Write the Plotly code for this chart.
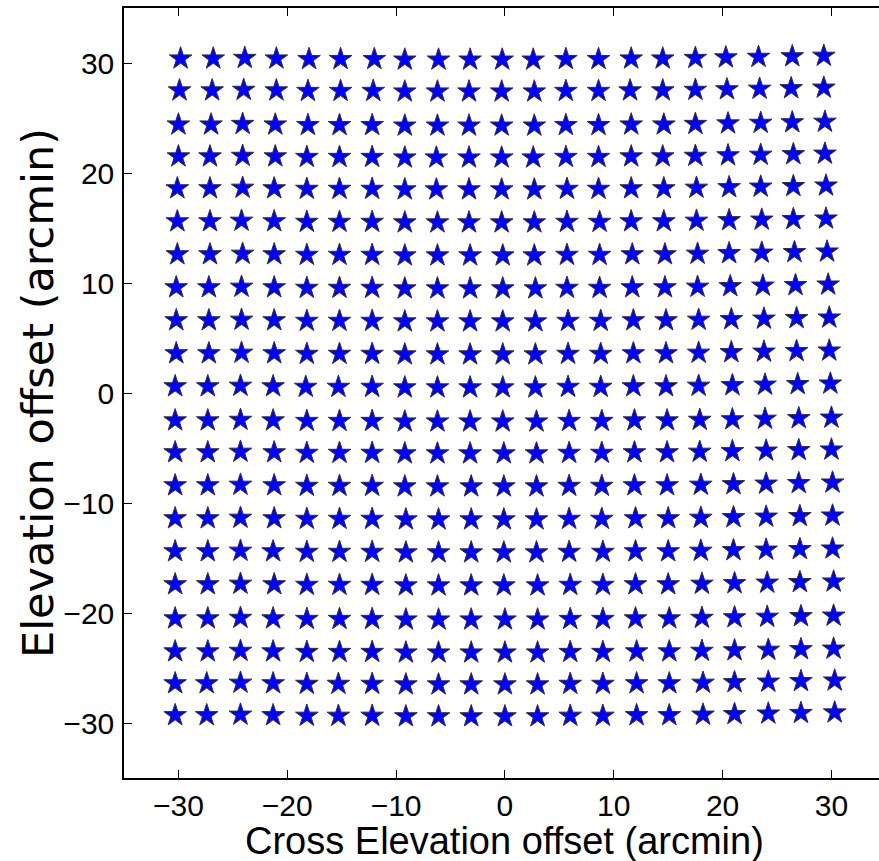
import plotly.graph_objects as go

# Cross-elevation offsets (arcmin), one list per grid row (top row first)
xel_rows = [
    [-29.8, -26.8, -23.9, -21.0, -18.0, -15.1, -12.0, -9.2, -6.1, -3.2, -0.25, 2.6, 5.6, 8.6, 11.6, 14.5, 17.5, 20.3, 23.3, 26.4, 29.3],
    [-29.9, -26.9, -24.0, -21.0, -18.1, -15.1, -12.1, -9.2, -6.2, -3.3, -0.3, 2.7, 5.6, 8.6, 11.5, 14.5, 17.5, 20.4, 23.4, 26.3, 29.3],
    [-30.0, -27.0, -24.1, -21.1, -18.1, -15.2, -12.2, -9.2, -6.2, -3.3, -0.3, 2.7, 5.6, 8.6, 11.6, 14.6, 17.5, 20.5, 23.5, 26.4, 29.4],
    [-30.0, -27.1, -24.1, -21.1, -18.2, -15.2, -12.2, -9.2, -6.3, -3.3, -0.3, 2.6, 5.6, 8.6, 11.6, 14.5, 17.5, 20.5, 23.5, 26.5, 29.4],
    [-30.1, -27.1, -24.1, -21.2, -18.2, -15.2, -12.2, -9.2, -6.3, -3.3, -0.3, 2.7, 5.7, 8.6, 11.6, 14.6, 17.6, 20.6, 23.5, 26.5, 29.5],
    [-30.1, -27.1, -24.2, -21.2, -18.2, -15.2, -12.2, -9.2, -6.2, -3.3, -0.3, 2.7, 5.7, 8.7, 11.6, 14.6, 17.6, 20.6, 23.6, 26.5, 29.5],
    [-30.1, -27.1, -24.1, -21.2, -18.2, -15.2, -12.2, -9.2, -6.2, -3.2, -0.2, 2.7, 5.7, 8.7, 11.7, 14.7, 17.7, 20.6, 23.6, 26.6, 29.6],
    [-30.2, -27.2, -24.2, -21.2, -18.2, -15.2, -12.2, -9.2, -6.2, -3.2, -0.2, 2.8, 5.7, 8.7, 11.7, 14.7, 17.7, 20.7, 23.7, 26.7, 29.7],
    [-30.2, -27.2, -24.2, -21.2, -18.2, -15.2, -12.2, -9.2, -6.2, -3.2, -0.2, 2.8, 5.8, 8.8, 11.8, 14.8, 17.8, 20.8, 23.8, 26.8, 29.8],
    [-30.2, -27.2, -24.2, -21.2, -18.2, -15.2, -12.2, -9.2, -6.2, -3.2, -0.2, 2.8, 5.8, 8.8, 11.8, 14.8, 17.8, 20.8, 23.8, 26.8, 29.8],
    [-30.3, -27.3, -24.3, -21.3, -18.3, -15.3, -12.2, -9.2, -6.2, -3.2, -0.2, 2.8, 5.8, 8.8, 11.8, 14.8, 17.8, 20.9, 23.9, 26.9, 29.9],
    [-30.3, -27.3, -24.3, -21.3, -18.2, -15.2, -12.2, -9.2, -6.2, -3.2, -0.2, 2.9, 5.9, 8.9, 11.9, 14.9, 17.9, 20.9, 23.9, 27.0, 30.0],
    [-30.3, -27.3, -24.3, -21.2, -18.2, -15.2, -12.2, -9.2, -6.2, -3.2, -0.1, 2.9, 5.9, 8.9, 11.9, 14.9, 17.9, 20.9, 24.0, 27.0, 30.0],
    [-30.3, -27.3, -24.3, -21.2, -18.2, -15.2, -12.2, -9.2, -6.2, -3.1, -0.1, 2.9, 5.9, 8.9, 11.9, 14.9, 18.0, 21.0, 24.0, 27.0, 30.1],
    [-30.3, -27.3, -24.3, -21.2, -18.2, -15.2, -12.2, -9.1, -6.1, -3.1, -0.1, 2.9, 5.9, 8.9, 12.0, 15.0, 18.0, 21.0, 24.0, 27.1, 30.1],
    [-30.3, -27.3, -24.3, -21.3, -18.2, -15.2, -12.2, -9.1, -6.1, -3.1, -0.1, 2.9, 5.9, 9.0, 12.0, 15.0, 18.0, 21.0, 24.0, 27.1, 30.1],
    [-30.3, -27.3, -24.3, -21.2, -18.2, -15.2, -12.2, -9.1, -6.1, -3.1, -0.1, 3.0, 6.0, 9.0, 12.0, 15.0, 18.1, 21.1, 24.1, 27.1, 30.2],
    [-30.3, -27.3, -24.3, -21.3, -18.2, -15.2, -12.2, -9.1, -6.1, -3.1, 0.0, 3.0, 6.0, 9.0, 12.0, 15.1, 18.1, 21.1, 24.1, 27.2, 30.2],
    [-30.3, -27.3, -24.3, -21.3, -18.2, -15.2, -12.2, -9.1, -6.1, -3.1, 0.0, 3.0, 6.0, 9.0, 12.1, 15.1, 18.1, 21.1, 24.2, 27.2, 30.2],
    [-30.3, -27.4, -24.3, -21.3, -18.2, -15.3, -12.2, -9.1, -6.1, -3.1, 0.0, 3.0, 6.0, 9.0, 12.1, 15.1, 18.2, 21.1, 24.2, 27.2, 30.3],
    [-30.3, -27.4, -24.3, -21.3, -18.2, -15.3, -12.2, -9.1, -6.1, -3.1, 0.0, 3.0, 6.0, 9.0, 12.1, 15.1, 18.2, 21.1, 24.2, 27.2, 30.3],
]

# Elevation offset (arcmin) of each grid row at its left end (top row first)
el_rows = [30.4, 27.5, 24.4, 21.5, 18.6, 15.6, 12.6, 9.6, 6.6, 3.6, 0.6,
           -2.5, -5.4, -8.4, -11.4, -14.4, -17.4, -20.5, -23.5, -26.4, -29.3]

# Small elevation tilt read along each row, per column (left to right)
el_col_shift = [0.0, 0.0, 0.05, 0.0, -0.05, -0.05, -0.05, -0.1, -0.1, -0.1, -0.1,
                -0.1, -0.05, -0.05, 0.0, 0.0, 0.05, 0.1, 0.15, 0.2, 0.25]

x_ticks = [-30, -20, -10, 0, 10, 20, 30]
y_ticks = [-30, -20, -10, 0, 10, 20, 30]

xs, ys = [], []
for row, base in zip(xel_rows, el_rows):
    for xv, dv in zip(row, el_col_shift):
        xs.append(xv)
        ys.append(base + dv)

tick_font = dict(family="Liberation Sans, Arial, sans-serif", size=30, color="black")

fig = go.Figure()
fig.add_trace(go.Scatter(
    x=xs, y=ys, mode="markers",
    marker=dict(symbol="star", size=17, color="#0000ff",
                line=dict(color="#303040", width=1)),
    showlegend=False, hoverinfo="skip",
))

fig.update_layout(
    width=879, height=861,
    margin=dict(l=124, r=0, t=8, b=83),
    plot_bgcolor="white", paper_bgcolor="white",
    xaxis=dict(range=[-35, 34.37], tickvals=x_ticks, ticks="inside", ticklen=8,
               tickwidth=1, tickcolor="black", showline=True, linecolor="black",
               linewidth=1.5, mirror="ticks", showgrid=False, zeroline=False,
               tickfont=tick_font, ticklabelstandoff=0),
    yaxis=dict(range=[-35, 35], tickvals=y_ticks, ticks="inside", ticklen=8,
               tickwidth=1, tickcolor="black", showline=True, linecolor="black",
               linewidth=1.5, showgrid=False, zeroline=False,
               tickfont=tick_font, ticklabelstandoff=2),
    annotations=[
        dict(text="Cross Elevation offset (arcmin)", xref="x", yref="paper",
             x=0, y=0, yshift=-40, yanchor="top", xanchor="center", showarrow=False,
             font=dict(family="Liberation Sans, Arial, sans-serif", size=38, color="black")),
        dict(text="Elevation offset (arcmin)", xref="paper", yref="paper",
             x=0, y=0.5, xshift=-86, xanchor="center", yanchor="middle",
             textangle=-90, showarrow=False,
             font=dict(family="DejaVu Sans", size=43, color="black")),
    ],
)

fig.write_html("out.html")
